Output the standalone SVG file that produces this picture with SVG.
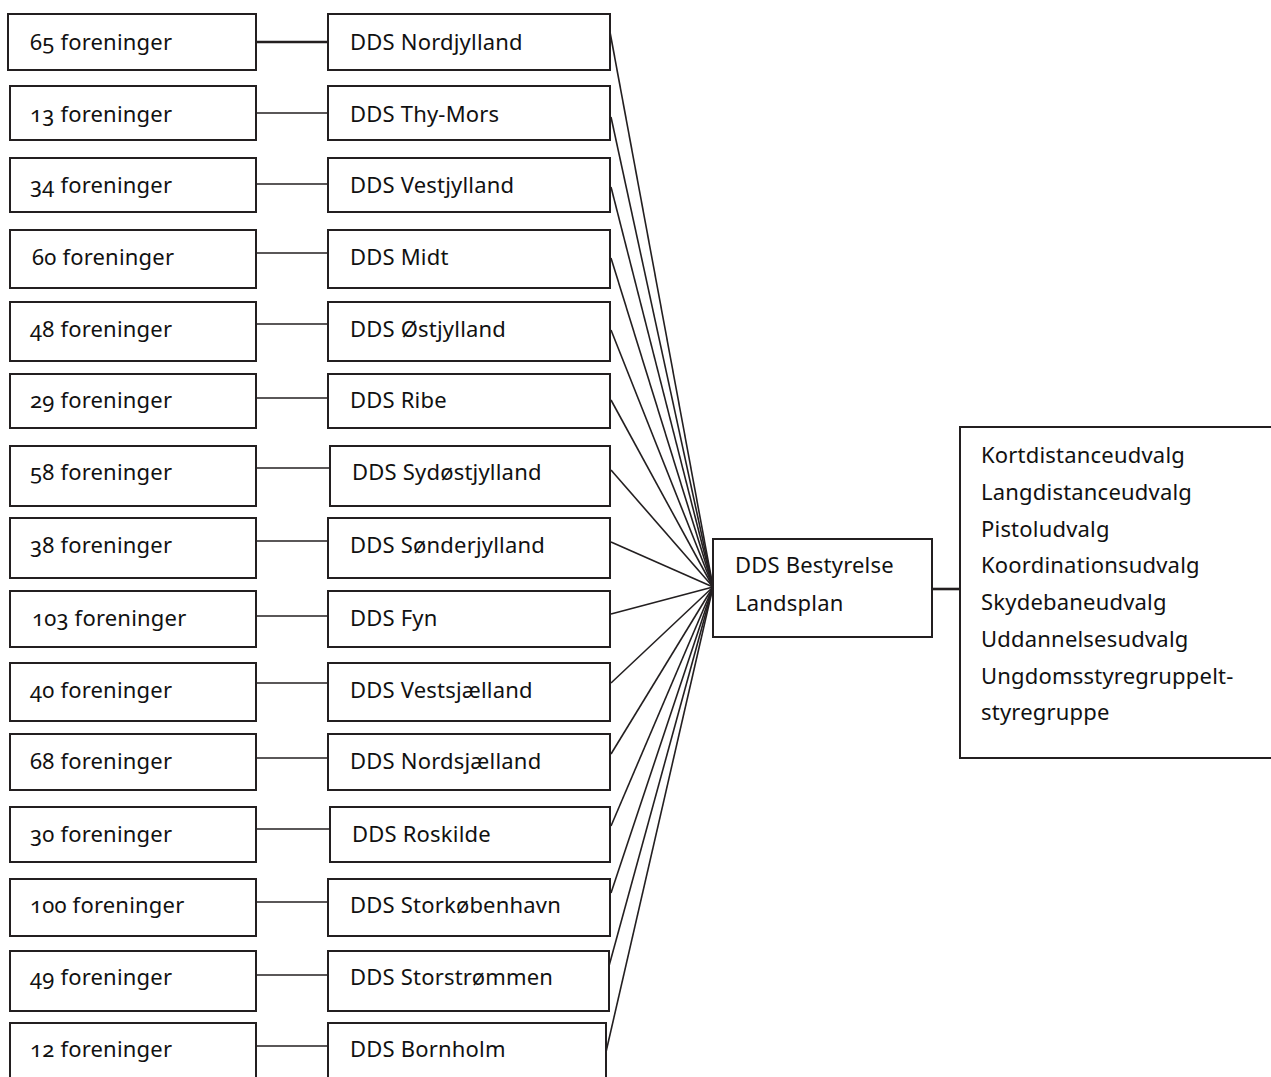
<svg xmlns="http://www.w3.org/2000/svg" width="1271" height="1077" viewBox="0 0 1271 1077">
<style>
.box{fill:#fff;stroke:#231f20;stroke-width:2}
.t{font-family:"Noto Sans","Open Sans",sans-serif;font-size:22px;fill:#111;font-variant-numeric:oldstyle-nums;letter-spacing:0.2px}
.c{stroke:#231f20;stroke-width:1.6;fill:none}
.ct{stroke:#231f20;stroke-width:2.6;fill:none}
</style>
<rect width="1271" height="1077" fill="#fff"/>
<g id="connectors">
<line class="ct" x1="256" y1="42" x2="328" y2="42"/>
<line class="c" x1="256" y1="113" x2="328" y2="113"/>
<line class="c" x1="256" y1="184" x2="328" y2="184"/>
<line class="c" x1="256" y1="253" x2="328" y2="253"/>
<line class="c" x1="256" y1="324" x2="328" y2="324"/>
<line class="c" x1="256" y1="398" x2="328" y2="398"/>
<line class="c" x1="256" y1="468" x2="330" y2="468"/>
<line class="c" x1="256" y1="541" x2="328" y2="541"/>
<line class="c" x1="256" y1="616" x2="328" y2="616"/>
<line class="c" x1="256" y1="683" x2="328" y2="683"/>
<line class="c" x1="256" y1="758" x2="328" y2="758"/>
<line class="c" x1="256" y1="829" x2="330" y2="829"/>
<line class="c" x1="256" y1="902" x2="328" y2="902"/>
<line class="c" x1="256" y1="975" x2="328" y2="975"/>
<line class="c" x1="256" y1="1046" x2="328" y2="1046"/>
<line class="c" x1="610" y1="32" x2="713" y2="587"/>
<line class="c" x1="611" y1="117" x2="713" y2="587"/>
<line class="c" x1="611" y1="187" x2="713" y2="587"/>
<line class="c" x1="611" y1="258" x2="713" y2="587"/>
<line class="c" x1="611" y1="330" x2="713" y2="587"/>
<line class="c" x1="611" y1="400" x2="713" y2="587"/>
<line class="c" x1="611" y1="470" x2="713" y2="587"/>
<line class="c" x1="611" y1="542" x2="713" y2="587"/>
<line class="c" x1="611" y1="614" x2="713" y2="587"/>
<line class="c" x1="611" y1="683" x2="713" y2="587"/>
<line class="c" x1="611" y1="754" x2="713" y2="587"/>
<line class="c" x1="611" y1="826" x2="713" y2="587"/>
<line class="c" x1="611" y1="893" x2="713" y2="587"/>
<line class="c" x1="609" y1="966" x2="713" y2="587"/>
<line class="c" x1="606" y1="1052" x2="713" y2="587"/>
<line class="ct" x1="932" y1="589" x2="960" y2="589"/>
</g>
<g id="n1a"><rect class="box" x="8" y="14" width="248" height="56"/><text class="t" x="30" y="50">65 foreninger</text></g>
<g id="n1b"><rect class="box" x="328" y="14" width="282" height="56"/><text class="t" x="350" y="50">DDS Nordjylland</text></g>
<g id="n2a"><rect class="box" x="10" y="86" width="246" height="54"/><text class="t" x="30" y="122">13 foreninger</text></g>
<g id="n2b"><rect class="box" x="328" y="86" width="282" height="54"/><text class="t" x="350" y="122">DDS Thy-Mors</text></g>
<g id="n3a"><rect class="box" x="10" y="158" width="246" height="54"/><text class="t" x="30" y="193">34 foreninger</text></g>
<g id="n3b"><rect class="box" x="328" y="158" width="282" height="54"/><text class="t" x="350" y="193">DDS Vestjylland</text></g>
<g id="n4a"><rect class="box" x="10" y="230" width="246" height="58"/><text class="t" x="32" y="265">60 foreninger</text></g>
<g id="n4b"><rect class="box" x="328" y="230" width="282" height="58"/><text class="t" x="350" y="265">DDS Midt</text></g>
<g id="n5a"><rect class="box" x="10" y="302" width="246" height="59"/><text class="t" x="30" y="337">48 foreninger</text></g>
<g id="n5b"><rect class="box" x="328" y="302" width="282" height="59"/><text class="t" x="350" y="337">DDS Østjylland</text></g>
<g id="n6a"><rect class="box" x="10" y="374" width="246" height="54"/><text class="t" x="30" y="408">29 foreninger</text></g>
<g id="n6b"><rect class="box" x="328" y="374" width="282" height="54"/><text class="t" x="350" y="408">DDS Ribe</text></g>
<g id="n7a"><rect class="box" x="10" y="446" width="246" height="60"/><text class="t" x="30" y="480">58 foreninger</text></g>
<g id="n7b"><rect class="box" x="330" y="446" width="280" height="60"/><text class="t" x="352" y="480">DDS Sydøstjylland</text></g>
<g id="n8a"><rect class="box" x="10" y="518" width="246" height="60"/><text class="t" x="30" y="553">38 foreninger</text></g>
<g id="n8b"><rect class="box" x="328" y="518" width="282" height="60"/><text class="t" x="350" y="553">DDS Sønderjylland</text></g>
<g id="n9a"><rect class="box" x="10" y="591" width="246" height="56"/><text class="t" x="32" y="626">103 foreninger</text></g>
<g id="n9b"><rect class="box" x="328" y="591" width="282" height="56"/><text class="t" x="350" y="626">DDS Fyn</text></g>
<g id="n10a"><rect class="box" x="10" y="663" width="246" height="58"/><text class="t" x="30" y="698">40 foreninger</text></g>
<g id="n10b"><rect class="box" x="328" y="663" width="282" height="58"/><text class="t" x="350" y="698">DDS Vestsjælland</text></g>
<g id="n11a"><rect class="box" x="10" y="734" width="246" height="56"/><text class="t" x="30" y="769">68 foreninger</text></g>
<g id="n11b"><rect class="box" x="328" y="734" width="282" height="56"/><text class="t" x="350" y="769">DDS Nordsjælland</text></g>
<g id="n12a"><rect class="box" x="10" y="807" width="246" height="55"/><text class="t" x="30" y="842">30 foreninger</text></g>
<g id="n12b"><rect class="box" x="330" y="807" width="280" height="55"/><text class="t" x="352" y="842">DDS Roskilde</text></g>
<g id="n13a"><rect class="box" x="10" y="879" width="246" height="57"/><text class="t" x="30" y="913">100 foreninger</text></g>
<g id="n13b"><rect class="box" x="328" y="879" width="282" height="57"/><text class="t" x="350" y="913">DDS Storkøbenhavn</text></g>
<g id="n14a"><rect class="box" x="10" y="951" width="246" height="60"/><text class="t" x="30" y="985">49 foreninger</text></g>
<g id="n14b"><rect class="box" x="328" y="951" width="281" height="60"/><text class="t" x="350" y="985">DDS Storstrømmen</text></g>
<g id="n15a"><rect class="box" x="10" y="1023" width="246" height="70"/><text class="t" x="30" y="1057">12 foreninger</text></g>
<g id="n15b"><rect class="box" x="328" y="1023" width="278" height="70"/><text class="t" x="350" y="1057">DDS Bornholm</text></g>
<g id="board"><rect class="box" x="713" y="539" width="219" height="98"/><text class="t" x="735" y="573">DDS Bestyrelse</text><text class="t" x="735" y="611">Landsplan</text></g>
<g id="committees"><rect class="box" x="960" y="427" width="330" height="331"/>
<text class="t" x="981" y="463">Kortdistanceudvalg</text>
<text class="t" x="981" y="500">Langdistanceudvalg</text>
<text class="t" x="981" y="537">Pistoludvalg</text>
<text class="t" x="981" y="573">Koordinationsudvalg</text>
<text class="t" x="981" y="610">Skydebaneudvalg</text>
<text class="t" x="981" y="647">Uddannelsesudvalg</text>
<text class="t" x="981" y="684">Ungdomsstyregruppelt-</text>
<text class="t" x="981" y="720">styregruppe</text>
</g>
</svg>
